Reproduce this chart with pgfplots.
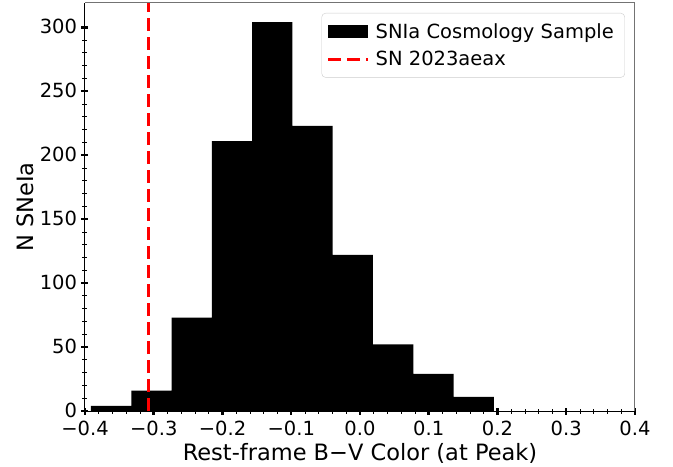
\documentclass[border=0pt]{standalone}
\usepackage{fontspec}
\setmainfont{DejaVu Sans}
\usepackage{pgfplots}
\pgfplotsset{compat=1.18}
\newcommand\mn{\char"2212\relax}
\newcommand\fs{\fontsize{19.5bp}{23bp}\selectfont}
\newcommand\fl{\fontsize{22.5bp}{26bp}\selectfont}
\begin{document}
\begin{tikzpicture}
\begin{axis}[
  scale only axis, width=550bp, height=408bp,
  xmin=-0.4, xmax=0.4, ymin=0, ymax=319,
  axis x line*=bottom, axis y line*=left,
  axis line style={black, line width=1bp},
  xtick={-0.4,-0.3,-0.2,-0.1,0,0.1,0.2,0.3,0.4},
  xticklabels={\mn0.4,\mn0.3,\mn0.2,\mn0.1,0.0,0.1,0.2,0.3,0.4},
  ytick={0,50,100,150,200,250,300},
  minor x tick num=4, minor y tick num=4,
  tick align=center,
  major tick length=7bp, minor tick length=5bp,
  major tick style={line width=2.5bp, black},
  minor tick style={line width=0.8bp, black},
  /pgf/number format/assume math mode=true,
  xticklabel style={font=\fs, yshift=-3bp},
  yticklabel style={font=\fs, xshift=-1bp, yshift=1bp},
  xlabel style={font=\fl, yshift=-1bp},
  ylabel style={font=\fl, yshift=-1bp},
  xlabel={Rest-frame B\mn V Color (at Peak)},
  ylabel={N SNeIa},
  legend cell align=left,
  legend style={at={(1,1)}, anchor=north east, xshift=-10bp, yshift=-10bp,
    draw=black!20, rounded corners=4bp, inner xsep=5bp, inner ysep=8bp,
    font=\fs, row sep=8bp, nodes={inner xsep=6bp}},
]
\addplot[ybar interval, fill=black, draw=none,
  legend image code/.code={\fill[black, sharp corners] (0bp,-6.5bp) rectangle (40bp,6.5bp);}]
  coordinates {(-0.3913,4) (-0.3327,16) (-0.2741,73) (-0.2155,211) (-0.1569,304)
               (-0.0983,223) (-0.0397,122) (0.0189,52) (0.0775,29) (0.1361,11) (0.1947,0)};
\addlegendentry{SNIa Cosmology Sample}
\addplot[red, line width=3bp, dash pattern=on 13bp off 6bp,
  legend image code/.code={\draw[red, sharp corners, line width=3bp, dash pattern=on 13bp off 6bp] (0bp,0bp) -- (40bp,0bp);}]
  coordinates {(-0.308,0) (-0.308,319)};
\addlegendentry{SN 2023aeax}
\draw[black!55, line width=1bp] (rel axis cs:0,1) -- (rel axis cs:1,1) -- (rel axis cs:1,0);
\end{axis}
\pgfresetboundingbox
\useasboundingbox (-85bp,-56bp) rectangle (588bp,411bp);
\end{tikzpicture}
\end{document}
